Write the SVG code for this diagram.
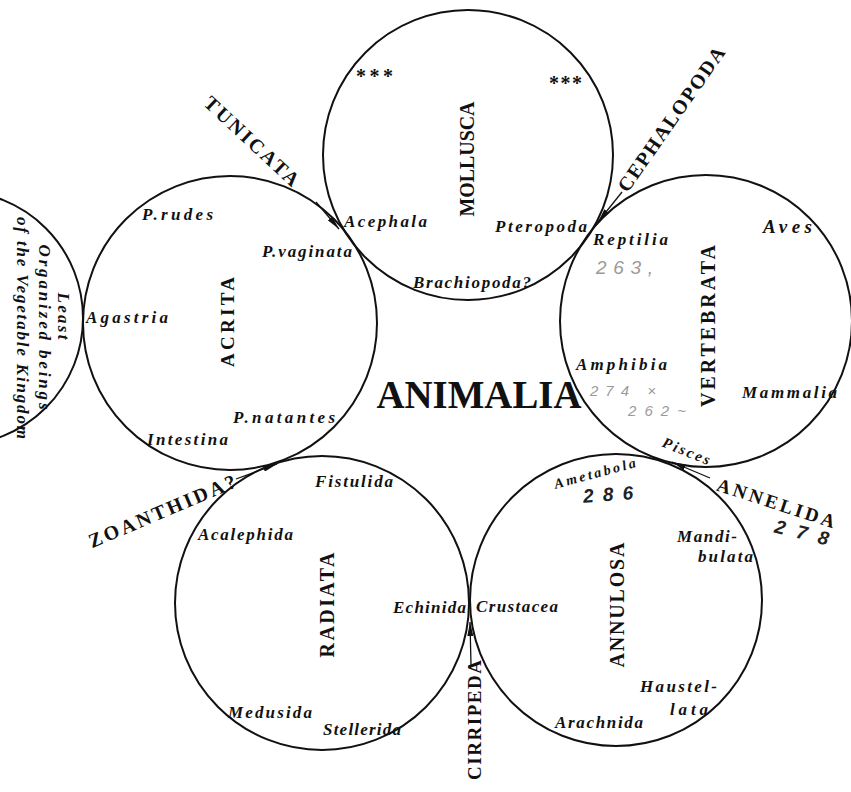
<svg xmlns="http://www.w3.org/2000/svg" width="851" height="792" viewBox="0 0 851 792">
<style>
.c{fill:none;stroke:#111;stroke-width:2}
.it{font-family:"Liberation Serif",serif;font-style:italic;font-weight:bold;font-size:17px;fill:#111}
.big{font-family:"Liberation Serif",serif;font-weight:bold;font-size:20px;fill:#111;text-anchor:middle}
.out{font-family:"Liberation Serif",serif;font-weight:bold;font-size:20px;fill:#111;text-anchor:middle}
.st{font-family:"Liberation Serif",serif;font-weight:bold;font-size:20px;fill:#111}
.pen{font-family:"Liberation Sans",sans-serif;font-style:italic;fill:#9a9a9a}
.ink{font-family:"Liberation Sans",sans-serif;font-style:italic;font-weight:bold;fill:#222}
.arr{stroke:#111;stroke-width:1.3;fill:none;marker-end:url(#ah)}
</style>
<defs>
<marker id="ah" viewBox="0 0 14 6" refX="14" refY="3" markerWidth="14" markerHeight="6" orient="auto" markerUnits="userSpaceOnUse">
<path d="M0,0 L14,3 L0,6 z" fill="#111"/>
</marker>
</defs>
<rect width="851" height="792" fill="#fff"/>

<g id="vegetable">
<circle class="c" cx="-44" cy="318" r="127"/>
<g transform="translate(58,316) rotate(90)"><text class="it" style="font-size:17px" x="0" y="0" text-anchor="middle" textLength="47">Least</text></g>
<g transform="translate(39,327) rotate(90)"><text class="it" style="font-size:17px" x="0" y="0" text-anchor="middle" textLength="165">Organized beings</text></g>
<g transform="translate(17,328) rotate(90)"><text class="it" style="font-size:17px" x="0" y="0" text-anchor="middle" textLength="222">of the Vegetable Kingdom</text></g>
</g>

<g id="acrita">
<circle class="c" cx="230" cy="323" r="147"/>
<text class="it" x="142" y="220" textLength="71">P.rudes</text>
<text class="it" x="262" y="257" textLength="90">P.vaginata</text>
<text class="it" x="86" y="323" textLength="82">Agastria</text>
<text class="it" x="233" y="423" textLength="102">P.natantes</text>
<text class="it" x="147" y="445" textLength="81">Intestina</text>
<g transform="translate(227,322) rotate(-90)"><text class="big" style="font-size:19px" x="0" y="6.5" textLength="90">ACRITA</text></g>
</g>

<g id="mollusca">
<circle class="c" cx="468" cy="155" r="145"/>
<text class="st" x="356" y="83" textLength="37">***</text>
<text class="st" x="549" y="90" textLength="33">***</text>
<text class="it" x="344" y="227" textLength="83">Acephala</text>
<text class="it" x="495" y="232" textLength="92">Pteropoda</text>
<text class="it" x="413" y="288" textLength="118">Brachiopoda?</text>
<g transform="translate(467,159) rotate(-90)"><text class="big" x="0" y="7" textLength="115">MOLLUSCA</text></g>
</g>

<g id="vertebrata">
<circle class="c" cx="706" cy="321" r="146"/>
<text class="it" x="593" y="245" textLength="75">Reptilia</text>
<text class="it" x="763" y="233" style="font-size:19px" textLength="49">Aves</text>
<text class="it" x="576" y="370" textLength="91">Amphibia</text>
<text class="it" x="742" y="398" textLength="95">Mammalia</text>
<g transform="translate(686,452) rotate(22)"><text class="it" style="font-size:15px" x="0" y="4" text-anchor="middle" textLength="50">Pisces</text></g>
<g transform="translate(708,326) rotate(-90)"><text class="big" x="0" y="7" textLength="162">VERTEBRATA</text></g>
<text class="pen" x="596" y="274" font-size="19" textLength="57">263,</text>
<text class="pen" x="590" y="396" font-size="15" textLength="66">274 ×</text>
<text class="pen" x="628" y="416" font-size="15" textLength="58">262~</text>
</g>

<g id="radiata">
<circle class="c" cx="322" cy="603" r="147"/>
<text class="it" x="315" y="487" textLength="78">Fistulida</text>
<text class="it" x="198" y="540" textLength="95">Acalephida</text>
<text class="it" x="393" y="613" textLength="73">Echinida</text>
<text class="it" x="228" y="718" textLength="84">Medusida</text>
<text class="it" x="323" y="735" textLength="78">Stellerida</text>
<g transform="translate(327,605) rotate(-90)"><text class="big" x="0" y="7" textLength="105">RADIATA</text></g>
</g>

<g id="annulosa">
<circle class="c" cx="616" cy="600" r="146"/>
<g transform="translate(595,474) rotate(-15)"><text class="it" style="font-size:14px" x="0" y="4" text-anchor="middle" textLength="84">Ametabola</text></g>
<g transform="translate(608,493) rotate(-4)"><text class="ink" font-size="19" x="0" y="8" text-anchor="middle" textLength="50">286</text></g>
<text class="it" x="476" y="612" textLength="82">Crustacea</text>
<text class="it" x="677" y="542" textLength="60">Mandi-</text>
<text class="it" x="698" y="562" textLength="55">bulata</text>
<text class="it" x="640" y="692" textLength="77">Haustel-</text>
<text class="it" x="670" y="715" textLength="38">lata</text>
<text class="it" x="555" y="728" textLength="88">Arachnida</text>
<g transform="translate(617,605) rotate(-90)"><text class="big" x="0" y="7" textLength="125">ANNULOSA</text></g>
</g>

<g id="animalia">
<text x="479" y="408" font-family="'Liberation Serif',serif" font-weight="bold" font-size="40" fill="#111" text-anchor="middle" textLength="205" lengthAdjust="spacingAndGlyphs">ANIMALIA</text>
</g>

<g id="connectors">
<line class="arr" x1="316" y1="202" x2="339" y2="229"/>
<line class="arr" x1="622" y1="192" x2="598" y2="222"/>
<line class="arr" x1="236" y1="479" x2="277" y2="464"/>
<line class="arr" x1="710" y1="478" x2="672" y2="462"/>
<line class="arr" x1="471" y1="665" x2="470" y2="622"/>
<g transform="translate(252,141) rotate(43)"><text class="out" x="0" y="7" textLength="122">TUNICATA</text></g>
<g transform="translate(671,119) rotate(-55)"><text class="out" x="0" y="7" textLength="172">CEPHALOPODA</text></g>
<g transform="translate(162,511) rotate(-23)"><text class="out" x="0" y="7" textLength="158">ZOANTHIDA?</text></g>
<g transform="translate(776,503) rotate(18)"><text class="out" style="font-size:19px" x="0" y="6.5" textLength="123">ANNELIDA</text></g>
<g transform="translate(802,532) rotate(14)"><text class="ink" font-size="19" x="0" y="7" text-anchor="middle" textLength="55">278</text></g>
<g transform="translate(474,720) rotate(-90)"><text class="out" style="font-size:19px" x="0" y="6.5" textLength="120">CIRRIPEDA</text></g>
</g>
</svg>
